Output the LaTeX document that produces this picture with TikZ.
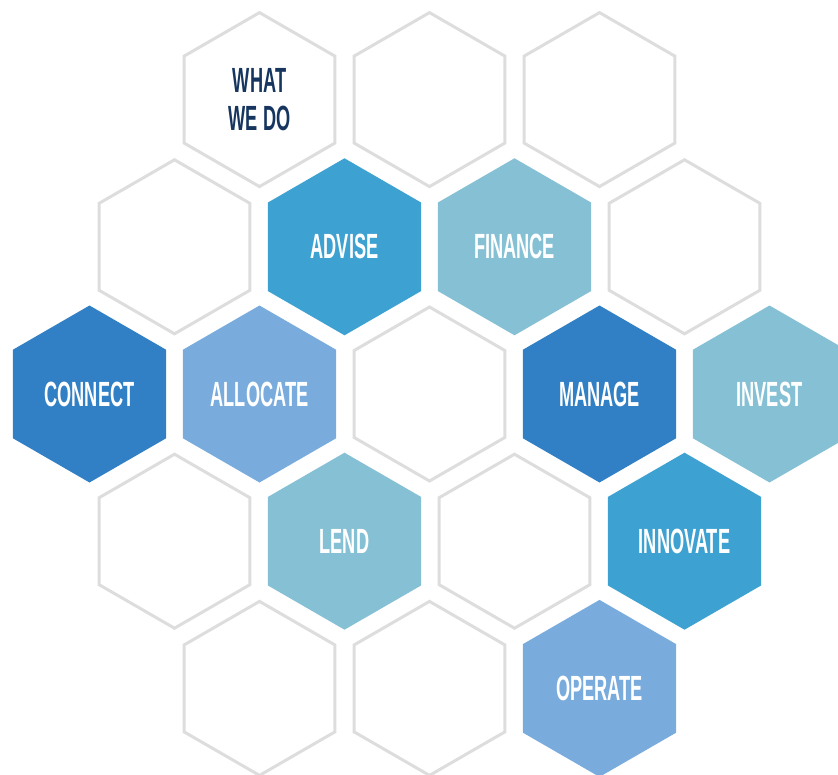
\documentclass[tikz,border=0pt]{standalone}
\usepackage{fontspec}
\setmainfont{Liberation Sans}[FakeStretch=0.52]
\usetikzlibrary{shapes.geometric}

\definecolor{hexgray}{HTML}{DDDDDD}
\definecolor{navy}{HTML}{17365F}
\definecolor{darkblue}{HTML}{317FC4}
\definecolor{midblue}{HTML}{3DA2D2}
\definecolor{lightblue}{HTML}{79ACDD}
\definecolor{paleblue}{HTML}{86C0D4}

\begin{document}
\begin{tikzpicture}[x=85pt, y=147.2pt,
    hexa/.style={regular polygon, regular polygon sides=6, shape border rotate=30,
      inner sep=0pt, minimum size=177pt, font=\fontsize{35}{38}\selectfont\bfseries, text=white}]

        \path[use as bounding box, clip] (-89.5pt,-380pt) rectangle (748.5pt,394pt);

        % empty cells
        \begin{scope}[every node/.style={hexa, draw=hexgray, line width=3pt, minimum size=174pt}]
          \node (1)  at (2,2)  [text=navy, align=center] {WHAT\\WE DO};
          \node (2)  at (4,2)  {};
          \node (3)  at (6,2)  {};
          \node (4)  at (1,1)  {};
          \node (5)  at (7,1)  {};
          \node (6)  at (4,0)  {};
          \node (7)  at (1,-1) {};
          \node (8)  at (5,-1) {};
          \node (9)  at (2,-2) {};
          \node (10) at (4,-2) {};
        \end{scope}

        % coloured cells
        \begin{scope}[every node/.style={hexa}]
          \node[fill=midblue]   (11) at (3,1)  {ADVISE};
          \node[fill=paleblue]  (12) at (5,1)  {FINANCE};
          \node[fill=darkblue]  (13) at (0,0)  {CONNECT};
          \node[fill=lightblue] (14) at (2,0)  {ALLOCATE};
          \node[fill=darkblue]  (15) at (6,0)  {MANAGE};
          \node[fill=paleblue]  (16) at (8,0)  {INVEST};
          \node[fill=paleblue]  (17) at (3,-1) {LEND};
          \node[fill=midblue]   (18) at (7,-1) {INNOVATE};
          \node[fill=lightblue] (19) at (6,-2) {OPERATE};
        \end{scope}

      \end{tikzpicture}
\end{document}
